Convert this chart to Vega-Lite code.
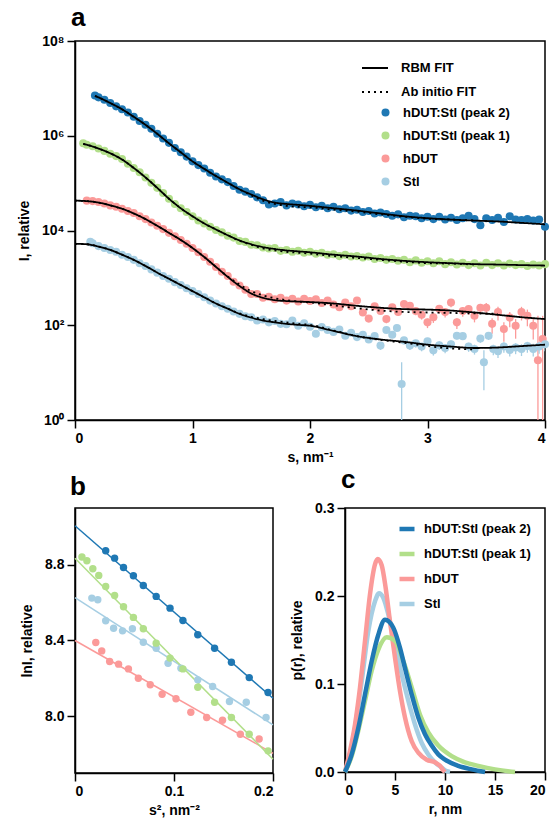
{
"$schema": "https://vega.github.io/schema/vega-lite/v6.json",
"background": "white",
"padding": {"left": 16, "top": 4, "right": 5, "bottom": 5},
"config": {
 "font": "Liberation Sans",
 "view": {"stroke": "black", "strokeWidth": 1.5},
 "axis": {"domainColor": "black", "domainWidth": 1.5, "tickColor": "black", "tickWidth": 1.5, "tickSize": 8, "labelFontSize": 14, "labelFontWeight": "bold", "labelColor": "black", "labelPadding": 3, "titleFontSize": 14, "titleFontWeight": "bold", "titleColor": "black", "grid": false},
 "legend": {"labelFontSize": 13, "labelFontWeight": "bold", "labelColor": "black"},
 "title": {"fontSize": 26, "fontWeight": "bold", "anchor": "start", "color": "black"}
},
"datasets": {
 "pa": [
  {"series":"hDUT:Stl (peak 2)","s":0.17,"I":7.08e6},{"series":"hDUT:Stl (peak 2)","s":0.2,"I":6.46e6},{"series":"hDUT:Stl (peak 2)","s":0.25,"I":5.75e6},{"series":"hDUT:Stl (peak 2)","s":0.3,"I":4.90e6},{"series":"hDUT:Stl (peak 2)","s":0.35,"I":4.17e6},{"series":"hDUT:Stl (peak 2)","s":0.4,"I":3.63e6},{"series":"hDUT:Stl (peak 2)","s":0.45,"I":3.09e6},{"series":"hDUT:Stl (peak 2)","s":0.5,"I":2.51e6},{"series":"hDUT:Stl (peak 2)","s":0.55,"I":2.04e6},{"series":"hDUT:Stl (peak 2)","s":0.6,"I":1.70e6},{"series":"hDUT:Stl (peak 2)","s":0.65,"I":1.41e6},{"series":"hDUT:Stl (peak 2)","s":0.7,"I":1.10e6},{"series":"hDUT:Stl (peak 2)","s":0.75,"I":8.71e5},{"series":"hDUT:Stl (peak 2)","s":0.8,"I":7.08e5},{"series":"hDUT:Stl (peak 2)","s":0.85,"I":5.50e5},{"series":"hDUT:Stl (peak 2)","s":0.9,"I":4.47e5},{"series":"hDUT:Stl (peak 2)","s":0.95,"I":3.63e5},{"series":"hDUT:Stl (peak 2)","s":1.0,"I":2.88e5},{"series":"hDUT:Stl (peak 2)","s":1.05,"I":2.40e5},{"series":"hDUT:Stl (peak 2)","s":1.1,"I":2.04e5},{"series":"hDUT:Stl (peak 2)","s":1.15,"I":1.66e5},{"series":"hDUT:Stl (peak 2)","s":1.2,"I":1.38e5},{"series":"hDUT:Stl (peak 2)","s":1.25,"I":1.20e5},{"series":"hDUT:Stl (peak 2)","s":1.3,"I":1.05e5},{"series":"hDUT:Stl (peak 2)","s":1.35,"I":8.71e4},{"series":"hDUT:Stl (peak 2)","s":1.4,"I":7.24e4},{"series":"hDUT:Stl (peak 2)","s":1.45,"I":6.61e4},{"series":"hDUT:Stl (peak 2)","s":1.5,"I":5.89e4},{"series":"hDUT:Stl (peak 2)","s":1.55,"I":5.01e4},{"series":"hDUT:Stl (peak 2)","s":1.6,"I":4.37e4},{"series":"hDUT:Stl (peak 2)","s":1.65,"I":3.55e4},{"series":"hDUT:Stl (peak 2)","s":1.7,"I":3.72e4},{"series":"hDUT:Stl (peak 2)","s":1.75,"I":3.98e4},{"series":"hDUT:Stl (peak 2)","s":1.8,"I":3.39e4},{"series":"hDUT:Stl (peak 2)","s":1.85,"I":3.72e4},{"series":"hDUT:Stl (peak 2)","s":1.9,"I":3.55e4},{"series":"hDUT:Stl (peak 2)","s":1.95,"I":3.24e4},{"series":"hDUT:Stl (peak 2)","s":2.0,"I":3.47e4},{"series":"hDUT:Stl (peak 2)","s":2.05,"I":3.09e4},{"series":"hDUT:Stl (peak 2)","s":2.1,"I":3.31e4},{"series":"hDUT:Stl (peak 2)","s":2.15,"I":2.95e4},{"series":"hDUT:Stl (peak 2)","s":2.2,"I":3.16e4},{"series":"hDUT:Stl (peak 2)","s":2.25,"I":2.82e4},{"series":"hDUT:Stl (peak 2)","s":2.3,"I":2.95e4},{"series":"hDUT:Stl (peak 2)","s":2.35,"I":2.63e4},{"series":"hDUT:Stl (peak 2)","s":2.4,"I":2.75e4},{"series":"hDUT:Stl (peak 2)","s":2.45,"I":2.45e4},{"series":"hDUT:Stl (peak 2)","s":2.5,"I":2.57e4},{"series":"hDUT:Stl (peak 2)","s":2.55,"I":2.29e4},{"series":"hDUT:Stl (peak 2)","s":2.6,"I":2.40e4},{"series":"hDUT:Stl (peak 2)","s":2.65,"I":2.24e4},{"series":"hDUT:Stl (peak 2)","s":2.7,"I":2.04e4},{"series":"hDUT:Stl (peak 2)","s":2.75,"I":2.19e4},{"series":"hDUT:Stl (peak 2)","s":2.8,"I":1.91e4},{"series":"hDUT:Stl (peak 2)","s":2.85,"I":2.04e4},{"series":"hDUT:Stl (peak 2)","s":2.9,"I":2.00e4},{"series":"hDUT:Stl (peak 2)","s":2.95,"I":1.82e4},{"series":"hDUT:Stl (peak 2)","s":3.0,"I":1.95e4},{"series":"hDUT:Stl (peak 2)","s":3.05,"I":1.74e4},{"series":"hDUT:Stl (peak 2)","s":3.1,"I":1.95e4},{"series":"hDUT:Stl (peak 2)","s":3.15,"I":1.70e4},{"series":"hDUT:Stl (peak 2)","s":3.2,"I":1.86e4},{"series":"hDUT:Stl (peak 2)","s":3.25,"I":1.66e4},{"series":"hDUT:Stl (peak 2)","s":3.3,"I":1.82e4},{"series":"hDUT:Stl (peak 2)","s":3.35,"I":2.04e4},{"series":"hDUT:Stl (peak 2)","s":3.4,"I":1.74e4},{"series":"hDUT:Stl (peak 2)","s":3.45,"I":1.29e4},{"series":"hDUT:Stl (peak 2)","s":3.5,"I":1.82e4},{"series":"hDUT:Stl (peak 2)","s":3.55,"I":1.66e4},{"series":"hDUT:Stl (peak 2)","s":3.6,"I":1.86e4},{"series":"hDUT:Stl (peak 2)","s":3.65,"I":1.51e4},{"series":"hDUT:Stl (peak 2)","s":3.7,"I":2.00e4},{"series":"hDUT:Stl (peak 2)","s":3.75,"I":1.70e4},{"series":"hDUT:Stl (peak 2)","s":3.8,"I":1.66e4},{"series":"hDUT:Stl (peak 2)","s":3.85,"I":1.74e4},{"series":"hDUT:Stl (peak 2)","s":3.9,"I":1.62e4},{"series":"hDUT:Stl (peak 2)","s":3.95,"I":1.70e4},{"series":"hDUT:Stl (peak 2)","s":4.0,"I":1.20e4},
  {"series":"hDUT:Stl (peak 1)","s":0.07,"I":6.92e5},{"series":"hDUT:Stl (peak 1)","s":0.1,"I":6.46e5},{"series":"hDUT:Stl (peak 1)","s":0.15,"I":6.03e5},{"series":"hDUT:Stl (peak 1)","s":0.2,"I":5.37e5},{"series":"hDUT:Stl (peak 1)","s":0.25,"I":4.79e5},{"series":"hDUT:Stl (peak 1)","s":0.3,"I":4.17e5},{"series":"hDUT:Stl (peak 1)","s":0.35,"I":3.72e5},{"series":"hDUT:Stl (peak 1)","s":0.4,"I":3.24e5},{"series":"hDUT:Stl (peak 1)","s":0.45,"I":2.57e5},{"series":"hDUT:Stl (peak 1)","s":0.5,"I":2.09e5},{"series":"hDUT:Stl (peak 1)","s":0.55,"I":1.70e5},{"series":"hDUT:Stl (peak 1)","s":0.6,"I":1.32e5},{"series":"hDUT:Stl (peak 1)","s":0.65,"I":1.02e5},{"series":"hDUT:Stl (peak 1)","s":0.7,"I":7.94e4},{"series":"hDUT:Stl (peak 1)","s":0.75,"I":6.17e4},{"series":"hDUT:Stl (peak 1)","s":0.8,"I":4.68e4},{"series":"hDUT:Stl (peak 1)","s":0.85,"I":3.63e4},{"series":"hDUT:Stl (peak 1)","s":0.9,"I":2.95e4},{"series":"hDUT:Stl (peak 1)","s":0.95,"I":2.45e4},{"series":"hDUT:Stl (peak 1)","s":1.0,"I":2.00e4},{"series":"hDUT:Stl (peak 1)","s":1.05,"I":1.62e4},{"series":"hDUT:Stl (peak 1)","s":1.1,"I":1.41e4},{"series":"hDUT:Stl (peak 1)","s":1.15,"I":1.20e4},{"series":"hDUT:Stl (peak 1)","s":1.2,"I":1.02e4},{"series":"hDUT:Stl (peak 1)","s":1.25,"I":9.12e3},{"series":"hDUT:Stl (peak 1)","s":1.3,"I":7.76e3},{"series":"hDUT:Stl (peak 1)","s":1.35,"I":7.08e3},{"series":"hDUT:Stl (peak 1)","s":1.4,"I":6.03e3},{"series":"hDUT:Stl (peak 1)","s":1.45,"I":5.75e3},{"series":"hDUT:Stl (peak 1)","s":1.5,"I":5.01e3},{"series":"hDUT:Stl (peak 1)","s":1.55,"I":4.90e3},{"series":"hDUT:Stl (peak 1)","s":1.6,"I":4.37e3},{"series":"hDUT:Stl (peak 1)","s":1.65,"I":4.17e3},{"series":"hDUT:Stl (peak 1)","s":1.7,"I":4.27e3},{"series":"hDUT:Stl (peak 1)","s":1.75,"I":3.72e3},{"series":"hDUT:Stl (peak 1)","s":1.8,"I":3.89e3},{"series":"hDUT:Stl (peak 1)","s":1.85,"I":3.55e3},{"series":"hDUT:Stl (peak 1)","s":1.9,"I":3.72e3},{"series":"hDUT:Stl (peak 1)","s":1.95,"I":3.39e3},{"series":"hDUT:Stl (peak 1)","s":2.0,"I":3.55e3},{"series":"hDUT:Stl (peak 1)","s":2.05,"I":3.24e3},{"series":"hDUT:Stl (peak 1)","s":2.1,"I":3.39e3},{"series":"hDUT:Stl (peak 1)","s":2.15,"I":3.09e3},{"series":"hDUT:Stl (peak 1)","s":2.2,"I":3.16e3},{"series":"hDUT:Stl (peak 1)","s":2.25,"I":2.88e3},{"series":"hDUT:Stl (peak 1)","s":2.3,"I":3.09e3},{"series":"hDUT:Stl (peak 1)","s":2.35,"I":2.82e3},{"series":"hDUT:Stl (peak 1)","s":2.4,"I":2.88e3},{"series":"hDUT:Stl (peak 1)","s":2.45,"I":2.69e3},{"series":"hDUT:Stl (peak 1)","s":2.5,"I":2.82e3},{"series":"hDUT:Stl (peak 1)","s":2.55,"I":2.51e3},{"series":"hDUT:Stl (peak 1)","s":2.6,"I":2.63e3},{"series":"hDUT:Stl (peak 1)","s":2.65,"I":2.40e3},{"series":"hDUT:Stl (peak 1)","s":2.7,"I":2.51e3},{"series":"hDUT:Stl (peak 1)","s":2.75,"I":2.29e3},{"series":"hDUT:Stl (peak 1)","s":2.8,"I":2.40e3},{"series":"hDUT:Stl (peak 1)","s":2.85,"I":2.14e3},{"series":"hDUT:Stl (peak 1)","s":2.9,"I":2.34e3},{"series":"hDUT:Stl (peak 1)","s":2.95,"I":2.09e3},{"series":"hDUT:Stl (peak 1)","s":3.0,"I":2.24e3},{"series":"hDUT:Stl (peak 1)","s":3.05,"I":2.04e3},{"series":"hDUT:Stl (peak 1)","s":3.1,"I":2.24e3},{"series":"hDUT:Stl (peak 1)","s":3.15,"I":1.95e3},{"series":"hDUT:Stl (peak 1)","s":3.2,"I":2.14e3},{"series":"hDUT:Stl (peak 1)","s":3.25,"I":1.91e3},{"series":"hDUT:Stl (peak 1)","s":3.3,"I":2.09e3},{"series":"hDUT:Stl (peak 1)","s":3.35,"I":1.86e3},{"series":"hDUT:Stl (peak 1)","s":3.4,"I":2.04e3},{"series":"hDUT:Stl (peak 1)","s":3.45,"I":1.82e3},{"series":"hDUT:Stl (peak 1)","s":3.5,"I":2.09e3},{"series":"hDUT:Stl (peak 1)","s":3.55,"I":1.86e3},{"series":"hDUT:Stl (peak 1)","s":3.6,"I":2.04e3},{"series":"hDUT:Stl (peak 1)","s":3.65,"I":1.82e3},{"series":"hDUT:Stl (peak 1)","s":3.7,"I":2.00e3},{"series":"hDUT:Stl (peak 1)","s":3.75,"I":1.86e3},{"series":"hDUT:Stl (peak 1)","s":3.8,"I":1.95e3},{"series":"hDUT:Stl (peak 1)","s":3.85,"I":1.78e3},{"series":"hDUT:Stl (peak 1)","s":3.9,"I":1.91e3},{"series":"hDUT:Stl (peak 1)","s":3.95,"I":1.82e3},{"series":"hDUT:Stl (peak 1)","s":4.0,"I":1.95e3},
  {"series":"hDUT","s":0.1,"I":4.27e4},{"series":"hDUT","s":0.15,"I":4.17e4},{"series":"hDUT","s":0.2,"I":3.98e4},{"series":"hDUT","s":0.25,"I":3.72e4},{"series":"hDUT","s":0.3,"I":3.39e4},{"series":"hDUT","s":0.35,"I":3.16e4},{"series":"hDUT","s":0.4,"I":2.88e4},{"series":"hDUT","s":0.45,"I":2.57e4},{"series":"hDUT","s":0.5,"I":2.34e4},{"series":"hDUT","s":0.55,"I":2.00e4},{"series":"hDUT","s":0.6,"I":1.74e4},{"series":"hDUT","s":0.65,"I":1.48e4},{"series":"hDUT","s":0.7,"I":1.26e4},{"series":"hDUT","s":0.75,"I":1.07e4},{"series":"hDUT","s":0.8,"I":8.91e3},{"series":"hDUT","s":0.85,"I":7.59e3},{"series":"hDUT","s":0.9,"I":6.31e3},{"series":"hDUT","s":0.95,"I":5.25e3},{"series":"hDUT","s":1.0,"I":4.27e3},{"series":"hDUT","s":1.05,"I":3.47e3},{"series":"hDUT","s":1.1,"I":2.75e3},{"series":"hDUT","s":1.15,"I":2.19e3},{"series":"hDUT","s":1.2,"I":1.70e3},{"series":"hDUT","s":1.25,"I":1.35e3},{"series":"hDUT","s":1.3,"I":1.10e3},{"series":"hDUT","s":1.35,"I":832},{"series":"hDUT","s":1.4,"I":692},{"series":"hDUT","s":1.45,"I":562},{"series":"hDUT","s":1.5,"I":457},{"series":"hDUT","s":1.55,"I":457},{"series":"hDUT","s":1.6,"I":380},{"series":"hDUT","s":1.65,"I":398},{"series":"hDUT","s":1.7,"I":355},{"series":"hDUT","s":1.75,"I":380},{"series":"hDUT","s":1.8,"I":331},{"series":"hDUT","s":1.85,"I":363},{"series":"hDUT","s":1.9,"I":316},{"series":"hDUT","s":1.95,"I":363},{"series":"hDUT","s":2.0,"I":324},{"series":"hDUT","s":2.05,"I":355},{"series":"hDUT","s":2.1,"I":295},{"series":"hDUT","s":2.15,"I":331},{"series":"hDUT","s":2.2,"I":275},{"series":"hDUT","s":2.25,"I":240},
  {"series":"hDUT","s":2.3,"I":302,"lo":269,"hi":339},{"series":"hDUT","s":2.35,"I":251,"lo":224,"hi":282},{"series":"hDUT","s":2.4,"I":331,"lo":295,"hi":372},{"series":"hDUT","s":2.45,"I":186,"lo":162,"hi":209},{"series":"hDUT","s":2.5,"I":138,"lo":117,"hi":158},{"series":"hDUT","s":2.55,"I":251,"lo":219,"hi":282},{"series":"hDUT","s":2.6,"I":200,"lo":174,"hi":224},{"series":"hDUT","s":2.65,"I":135,"lo":110,"hi":158},{"series":"hDUT","s":2.7,"I":240,"lo":204,"hi":275},{"series":"hDUT","s":2.75,"I":191,"lo":158,"hi":219},{"series":"hDUT","s":2.8,"I":282,"lo":240,"hi":324},{"series":"hDUT","s":2.85,"I":257,"lo":214,"hi":295},{"series":"hDUT","s":2.9,"I":200,"lo":162,"hi":234},{"series":"hDUT","s":2.95,"I":166,"lo":132,"hi":195},{"series":"hDUT","s":3.0,"I":115,"lo":87,"hi":138},{"series":"hDUT","s":3.05,"I":148,"lo":112,"hi":178},{"series":"hDUT","s":3.1,"I":224,"lo":174,"hi":269},{"series":"hDUT","s":3.15,"I":191,"lo":145,"hi":229},{"series":"hDUT","s":3.2,"I":302,"lo":240,"hi":355},{"series":"hDUT","s":3.25,"I":115,"lo":83,"hi":141},{"series":"hDUT","s":3.3,"I":200,"lo":151,"hi":240},{"series":"hDUT","s":3.35,"I":219,"lo":166,"hi":263},{"series":"hDUT","s":3.4,"I":158,"lo":115,"hi":195},{"series":"hDUT","s":3.45,"I":234,"lo":178,"hi":282},{"series":"hDUT","s":3.5,"I":234,"lo":166,"hi":295},{"series":"hDUT","s":3.55,"I":107,"lo":66,"hi":141},{"series":"hDUT","s":3.6,"I":191,"lo":126,"hi":245},{"series":"hDUT","s":3.65,"I":83,"lo":45,"hi":115},{"series":"hDUT","s":3.7,"I":145,"lo":91,"hi":191},{"series":"hDUT","s":3.75,"I":98,"lo":52,"hi":135},{"series":"hDUT","s":3.8,"I":191,"lo":126,"hi":245},{"series":"hDUT","s":3.85,"I":158,"lo":95,"hi":214},{"series":"hDUT","s":3.9,"I":98,"lo":50,"hi":138},{"series":"hDUT","s":3.94,"I":18.2,"lo":0.3,"hi":158},{"series":"hDUT","s":3.98,"I":51,"lo":0.3,"hi":158},
  {"series":"Stl","s":0.13,"I":5.75e3},{"series":"Stl","s":0.15,"I":5.37e3},{"series":"Stl","s":0.2,"I":4.68e3},{"series":"Stl","s":0.25,"I":4.27e3},{"series":"Stl","s":0.3,"I":3.89e3},{"series":"Stl","s":0.35,"I":3.55e3},{"series":"Stl","s":0.4,"I":3.09e3},{"series":"Stl","s":0.45,"I":2.75e3},{"series":"Stl","s":0.5,"I":2.40e3},{"series":"Stl","s":0.55,"I":2.04e3},{"series":"Stl","s":0.6,"I":1.78e3},{"series":"Stl","s":0.65,"I":1.51e3},{"series":"Stl","s":0.7,"I":1.29e3},{"series":"Stl","s":0.75,"I":1.10e3},{"series":"Stl","s":0.8,"I":955},{"series":"Stl","s":0.85,"I":813},{"series":"Stl","s":0.9,"I":708},{"series":"Stl","s":0.95,"I":603},{"series":"Stl","s":1.0,"I":525},{"series":"Stl","s":1.05,"I":457},{"series":"Stl","s":1.1,"I":389},{"series":"Stl","s":1.15,"I":331},{"series":"Stl","s":1.2,"I":288},{"series":"Stl","s":1.25,"I":251},{"series":"Stl","s":1.3,"I":224},{"series":"Stl","s":1.35,"I":195},{"series":"Stl","s":1.4,"I":174},{"series":"Stl","s":1.45,"I":155},{"series":"Stl","s":1.5,"I":148},{"series":"Stl","s":1.55,"I":126},{"series":"Stl","s":1.6,"I":132},{"series":"Stl","s":1.65,"I":115},{"series":"Stl","s":1.7,"I":123},{"series":"Stl","s":1.75,"I":107},{"series":"Stl","s":1.8,"I":105},{"series":"Stl","s":1.85,"I":126},{"series":"Stl","s":1.9,"I":97.7},{"series":"Stl","s":1.95,"I":110},{"series":"Stl","s":2.0,"I":93.3},{"series":"Stl","s":2.05,"I":66.1},{"series":"Stl","s":2.1,"I":91.2},{"series":"Stl","s":2.15,"I":79.4},{"series":"Stl","s":2.2,"I":72.4},{"series":"Stl","s":2.25,"I":81.3},
  {"series":"Stl","s":2.3,"I":60.3,"lo":53.7,"hi":67.6},{"series":"Stl","s":2.35,"I":69.2,"lo":61.7,"hi":77.6},{"series":"Stl","s":2.4,"I":56.2,"lo":49.0,"hi":63.1},{"series":"Stl","s":2.45,"I":63.1,"lo":55.0,"hi":70.8},{"series":"Stl","s":2.5,"I":50.1,"lo":42.7,"hi":57.5},{"series":"Stl","s":2.55,"I":58.9,"lo":50.1,"hi":67.6},{"series":"Stl","s":2.6,"I":37.2,"lo":30.2,"hi":43.7},{"series":"Stl","s":2.65,"I":79.4,"lo":69.2,"hi":89.1},{"series":"Stl","s":2.7,"I":63.1,"lo":53.7,"hi":72.4},{"series":"Stl","s":2.74,"I":87.1,"lo":75.9,"hi":97.7},{"series":"Stl","s":2.78,"I":5.75,"lo":0.3,"hi":16.6},{"series":"Stl","s":2.8,"I":47.9,"lo":39.8,"hi":55.0},{"series":"Stl","s":2.85,"I":37.2,"lo":30.2,"hi":43.7},{"series":"Stl","s":2.9,"I":41.7,"lo":33.9,"hi":49.0},{"series":"Stl","s":2.95,"I":35.5,"lo":28.2,"hi":41.7},{"series":"Stl","s":3.0,"I":45.7,"lo":37.2,"hi":53.7},{"series":"Stl","s":3.05,"I":29.5,"lo":22.9,"hi":35.5},{"series":"Stl","s":3.1,"I":38.0,"lo":30.2,"hi":45.7},{"series":"Stl","s":3.15,"I":33.1,"lo":25.7,"hi":39.8},{"series":"Stl","s":3.2,"I":39.8,"lo":31.6,"hi":47.9},{"series":"Stl","s":3.25,"I":60.3,"lo":50.1,"hi":70.8},{"series":"Stl","s":3.3,"I":58.9,"lo":49.0,"hi":69.2},{"series":"Stl","s":3.35,"I":35.5,"lo":27.5,"hi":42.7},{"series":"Stl","s":3.4,"I":31.6,"lo":24.0,"hi":38.9},{"series":"Stl","s":3.45,"I":52.5,"lo":42.7,"hi":61.7},{"series":"Stl","s":3.48,"I":16.6,"lo":4.27,"hi":29.5},{"series":"Stl","s":3.52,"I":60.3,"lo":49.0,"hi":70.8},{"series":"Stl","s":3.56,"I":31.6,"lo":23.4,"hi":38.9},{"series":"Stl","s":3.6,"I":28.2,"lo":20.4,"hi":35.5},{"series":"Stl","s":3.65,"I":35.5,"lo":26.3,"hi":43.7},{"series":"Stl","s":3.7,"I":30.2,"lo":21.9,"hi":38.0},{"series":"Stl","s":3.75,"I":33.9,"lo":24.5,"hi":41.7},{"series":"Stl","s":3.8,"I":31.6,"lo":22.4,"hi":39.8},{"series":"Stl","s":3.85,"I":36.3,"lo":26.3,"hi":44.7},{"series":"Stl","s":3.9,"I":31.6,"lo":21.9,"hi":40.7},{"series":"Stl","s":3.95,"I":35.5,"lo":25.1,"hi":44.7},{"series":"Stl","s":4.0,"I":39.8,"lo":28.2,"hi":50.1}
 ],
 "fa": [
  {"series":"hDUT:Stl (peak 2)","s":0.17,"RBM FIT":6.92e6,"Ab initio FIT":6.92e6},{"series":"hDUT:Stl (peak 2)","s":0.2,"RBM FIT":6.46e6,"Ab initio FIT":6.46e6},{"series":"hDUT:Stl (peak 2)","s":0.3,"RBM FIT":4.90e6,"Ab initio FIT":4.90e6},{"series":"hDUT:Stl (peak 2)","s":0.4,"RBM FIT":3.63e6,"Ab initio FIT":3.63e6},{"series":"hDUT:Stl (peak 2)","s":0.5,"RBM FIT":2.51e6,"Ab initio FIT":2.51e6},{"series":"hDUT:Stl (peak 2)","s":0.6,"RBM FIT":1.70e6,"Ab initio FIT":1.70e6},{"series":"hDUT:Stl (peak 2)","s":0.7,"RBM FIT":1.10e6,"Ab initio FIT":1.10e6},{"series":"hDUT:Stl (peak 2)","s":0.8,"RBM FIT":6.92e5,"Ab initio FIT":6.92e5},{"series":"hDUT:Stl (peak 2)","s":0.9,"RBM FIT":4.47e5,"Ab initio FIT":4.47e5},{"series":"hDUT:Stl (peak 2)","s":1.0,"RBM FIT":2.88e5,"Ab initio FIT":2.88e5},{"series":"hDUT:Stl (peak 2)","s":1.1,"RBM FIT":2.00e5,"Ab initio FIT":2.00e5},{"series":"hDUT:Stl (peak 2)","s":1.2,"RBM FIT":1.41e5,"Ab initio FIT":1.41e5},{"series":"hDUT:Stl (peak 2)","s":1.3,"RBM FIT":1.02e5,"Ab initio FIT":1.02e5},{"series":"hDUT:Stl (peak 2)","s":1.4,"RBM FIT":7.41e4,"Ab initio FIT":7.41e4},{"series":"hDUT:Stl (peak 2)","s":1.5,"RBM FIT":5.75e4,"Ab initio FIT":5.50e4},{"series":"hDUT:Stl (peak 2)","s":1.6,"RBM FIT":4.57e4,"Ab initio FIT":4.27e4},{"series":"hDUT:Stl (peak 2)","s":1.7,"RBM FIT":3.89e4,"Ab initio FIT":3.63e4},{"series":"hDUT:Stl (peak 2)","s":1.8,"RBM FIT":3.63e4,"Ab initio FIT":3.31e4},{"series":"hDUT:Stl (peak 2)","s":1.9,"RBM FIT":3.47e4,"Ab initio FIT":3.16e4},{"series":"hDUT:Stl (peak 2)","s":2.0,"RBM FIT":3.31e4,"Ab initio FIT":3.09e4},{"series":"hDUT:Stl (peak 2)","s":2.2,"RBM FIT":2.95e4,"Ab initio FIT":2.75e4},{"series":"hDUT:Stl (peak 2)","s":2.4,"RBM FIT":2.63e4,"Ab initio FIT":2.51e4},{"series":"hDUT:Stl (peak 2)","s":2.6,"RBM FIT":2.29e4,"Ab initio FIT":2.19e4},{"series":"hDUT:Stl (peak 2)","s":2.8,"RBM FIT":2.00e4,"Ab initio FIT":1.95e4},{"series":"hDUT:Stl (peak 2)","s":3.0,"RBM FIT":1.82e4,"Ab initio FIT":1.78e4},{"series":"hDUT:Stl (peak 2)","s":3.2,"RBM FIT":1.70e4,"Ab initio FIT":1.70e4},{"series":"hDUT:Stl (peak 2)","s":3.4,"RBM FIT":1.62e4,"Ab initio FIT":1.62e4},{"series":"hDUT:Stl (peak 2)","s":3.6,"RBM FIT":1.55e4},{"series":"hDUT:Stl (peak 2)","s":3.8,"RBM FIT":1.45e4},{"series":"hDUT:Stl (peak 2)","s":4.0,"RBM FIT":1.35e4},
  {"series":"hDUT:Stl (peak 1)","s":0.07,"RBM FIT":6.76e5,"Ab initio FIT":6.76e5},{"series":"hDUT:Stl (peak 1)","s":0.1,"RBM FIT":6.46e5,"Ab initio FIT":6.46e5},{"series":"hDUT:Stl (peak 1)","s":0.2,"RBM FIT":5.37e5,"Ab initio FIT":5.37e5},{"series":"hDUT:Stl (peak 1)","s":0.3,"RBM FIT":4.27e5,"Ab initio FIT":4.27e5},{"series":"hDUT:Stl (peak 1)","s":0.4,"RBM FIT":3.16e5,"Ab initio FIT":3.16e5},{"series":"hDUT:Stl (peak 1)","s":0.5,"RBM FIT":2.09e5,"Ab initio FIT":2.09e5},{"series":"hDUT:Stl (peak 1)","s":0.6,"RBM FIT":1.32e5,"Ab initio FIT":1.32e5},{"series":"hDUT:Stl (peak 1)","s":0.7,"RBM FIT":7.94e4,"Ab initio FIT":7.94e4},{"series":"hDUT:Stl (peak 1)","s":0.8,"RBM FIT":4.68e4,"Ab initio FIT":4.68e4},{"series":"hDUT:Stl (peak 1)","s":0.9,"RBM FIT":2.95e4,"Ab initio FIT":2.95e4},{"series":"hDUT:Stl (peak 1)","s":1.0,"RBM FIT":2.00e4,"Ab initio FIT":2.00e4},{"series":"hDUT:Stl (peak 1)","s":1.1,"RBM FIT":1.41e4,"Ab initio FIT":1.41e4},{"series":"hDUT:Stl (peak 1)","s":1.2,"RBM FIT":1.05e4,"Ab initio FIT":1.05e4},{"series":"hDUT:Stl (peak 1)","s":1.3,"RBM FIT":7.94e3,"Ab initio FIT":7.94e3},{"series":"hDUT:Stl (peak 1)","s":1.4,"RBM FIT":6.17e3,"Ab initio FIT":6.03e3},{"series":"hDUT:Stl (peak 1)","s":1.5,"RBM FIT":5.13e3,"Ab initio FIT":5.01e3},{"series":"hDUT:Stl (peak 1)","s":1.6,"RBM FIT":4.47e3,"Ab initio FIT":4.17e3},{"series":"hDUT:Stl (peak 1)","s":1.7,"RBM FIT":4.07e3,"Ab initio FIT":3.80e3},{"series":"hDUT:Stl (peak 1)","s":1.8,"RBM FIT":3.80e3,"Ab initio FIT":3.55e3},{"series":"hDUT:Stl (peak 1)","s":1.9,"RBM FIT":3.63e3,"Ab initio FIT":3.39e3},{"series":"hDUT:Stl (peak 1)","s":2.0,"RBM FIT":3.47e3,"Ab initio FIT":3.24e3},{"series":"hDUT:Stl (peak 1)","s":2.2,"RBM FIT":3.09e3,"Ab initio FIT":2.88e3},{"series":"hDUT:Stl (peak 1)","s":2.4,"RBM FIT":2.82e3,"Ab initio FIT":2.63e3},{"series":"hDUT:Stl (peak 1)","s":2.6,"RBM FIT":2.51e3,"Ab initio FIT":2.40e3},{"series":"hDUT:Stl (peak 1)","s":2.8,"RBM FIT":2.29e3,"Ab initio FIT":2.19e3},{"series":"hDUT:Stl (peak 1)","s":3.0,"RBM FIT":2.14e3,"Ab initio FIT":2.04e3},{"series":"hDUT:Stl (peak 1)","s":3.2,"RBM FIT":2.04e3,"Ab initio FIT":2.00e3},{"series":"hDUT:Stl (peak 1)","s":3.4,"RBM FIT":1.95e3,"Ab initio FIT":1.91e3},{"series":"hDUT:Stl (peak 1)","s":3.6,"RBM FIT":1.91e3},{"series":"hDUT:Stl (peak 1)","s":3.8,"RBM FIT":1.86e3},{"series":"hDUT:Stl (peak 1)","s":4.0,"RBM FIT":1.82e3},
  {"series":"hDUT","s":0.0,"RBM FIT":4.27e4,"Ab initio FIT":4.27e4},{"series":"hDUT","s":0.1,"RBM FIT":4.17e4,"Ab initio FIT":4.17e4},{"series":"hDUT","s":0.2,"RBM FIT":3.89e4,"Ab initio FIT":3.89e4},{"series":"hDUT","s":0.3,"RBM FIT":3.39e4,"Ab initio FIT":3.39e4},{"series":"hDUT","s":0.4,"RBM FIT":2.88e4,"Ab initio FIT":2.88e4},{"series":"hDUT","s":0.5,"RBM FIT":2.29e4,"Ab initio FIT":2.29e4},{"series":"hDUT","s":0.6,"RBM FIT":1.74e4,"Ab initio FIT":1.74e4},{"series":"hDUT","s":0.7,"RBM FIT":1.26e4,"Ab initio FIT":1.26e4},{"series":"hDUT","s":0.8,"RBM FIT":8.91e3,"Ab initio FIT":8.91e3},{"series":"hDUT","s":0.9,"RBM FIT":6.31e3,"Ab initio FIT":6.31e3},{"series":"hDUT","s":1.0,"RBM FIT":4.27e3,"Ab initio FIT":4.27e3},{"series":"hDUT","s":1.1,"RBM FIT":2.75e3,"Ab initio FIT":2.75e3},{"series":"hDUT","s":1.2,"RBM FIT":1.70e3,"Ab initio FIT":1.70e3},{"series":"hDUT","s":1.3,"RBM FIT":1.05e3,"Ab initio FIT":1.07e3},{"series":"hDUT","s":1.4,"RBM FIT":676,"Ab initio FIT":724},{"series":"hDUT","s":1.5,"RBM FIT":468,"Ab initio FIT":525},{"series":"hDUT","s":1.6,"RBM FIT":380,"Ab initio FIT":427},{"series":"hDUT","s":1.7,"RBM FIT":339,"Ab initio FIT":372},{"series":"hDUT","s":1.8,"RBM FIT":324,"Ab initio FIT":339},{"series":"hDUT","s":1.9,"RBM FIT":316,"Ab initio FIT":316},{"series":"hDUT","s":2.0,"RBM FIT":309,"Ab initio FIT":302},{"series":"hDUT","s":2.2,"RBM FIT":288,"Ab initio FIT":263},{"series":"hDUT","s":2.4,"RBM FIT":257,"Ab initio FIT":229},{"series":"hDUT","s":2.6,"RBM FIT":234,"Ab initio FIT":204},{"series":"hDUT","s":2.8,"RBM FIT":219,"Ab initio FIT":191},{"series":"hDUT","s":3.0,"RBM FIT":214,"Ab initio FIT":186},{"series":"hDUT","s":3.2,"RBM FIT":204,"Ab initio FIT":182},{"series":"hDUT","s":3.4,"RBM FIT":186,"Ab initio FIT":178},{"series":"hDUT","s":3.6,"RBM FIT":166,"Ab initio FIT":174},{"series":"hDUT","s":3.8,"RBM FIT":148},{"series":"hDUT","s":4.0,"RBM FIT":135},
  {"series":"Stl","s":0.0,"RBM FIT":5.25e3,"Ab initio FIT":5.25e3},{"series":"Stl","s":0.1,"RBM FIT":5.13e3,"Ab initio FIT":5.13e3},{"series":"Stl","s":0.2,"RBM FIT":4.57e3,"Ab initio FIT":4.57e3},{"series":"Stl","s":0.3,"RBM FIT":3.89e3,"Ab initio FIT":3.89e3},{"series":"Stl","s":0.4,"RBM FIT":3.09e3,"Ab initio FIT":3.09e3},{"series":"Stl","s":0.5,"RBM FIT":2.40e3,"Ab initio FIT":2.40e3},{"series":"Stl","s":0.6,"RBM FIT":1.78e3,"Ab initio FIT":1.78e3},{"series":"Stl","s":0.7,"RBM FIT":1.29e3,"Ab initio FIT":1.29e3},{"series":"Stl","s":0.8,"RBM FIT":955,"Ab initio FIT":955},{"series":"Stl","s":0.9,"RBM FIT":708,"Ab initio FIT":708},{"series":"Stl","s":1.0,"RBM FIT":525,"Ab initio FIT":525},{"series":"Stl","s":1.1,"RBM FIT":389,"Ab initio FIT":389},{"series":"Stl","s":1.2,"RBM FIT":288,"Ab initio FIT":288},{"series":"Stl","s":1.3,"RBM FIT":224,"Ab initio FIT":224},{"series":"Stl","s":1.4,"RBM FIT":174,"Ab initio FIT":178},{"series":"Stl","s":1.5,"RBM FIT":145,"Ab initio FIT":151},{"series":"Stl","s":1.6,"RBM FIT":126,"Ab initio FIT":135},{"series":"Stl","s":1.7,"RBM FIT":115,"Ab initio FIT":123},{"series":"Stl","s":1.8,"RBM FIT":107,"Ab initio FIT":115},{"series":"Stl","s":1.9,"RBM FIT":102,"Ab initio FIT":107},{"series":"Stl","s":2.0,"RBM FIT":97.7,"Ab initio FIT":102},{"series":"Stl","s":2.2,"RBM FIT":75.9,"Ab initio FIT":77.6},{"series":"Stl","s":2.4,"RBM FIT":58.9,"Ab initio FIT":58.9},{"series":"Stl","s":2.6,"RBM FIT":50.1,"Ab initio FIT":49.0},{"series":"Stl","s":2.8,"RBM FIT":44.7,"Ab initio FIT":42.7},{"series":"Stl","s":3.0,"RBM FIT":38.9,"Ab initio FIT":36.3},{"series":"Stl","s":3.2,"RBM FIT":35.5,"Ab initio FIT":32.4},{"series":"Stl","s":3.4,"RBM FIT":33.1,"Ab initio FIT":30.9},{"series":"Stl","s":3.6,"RBM FIT":33.9},{"series":"Stl","s":3.8,"RBM FIT":36.3},{"series":"Stl","s":4.0,"RBM FIT":38.9}
 ],
 "gp": [
  {"series":"Stl","s2":0.017,"lnI":8.624},{"series":"Stl","s2":0.023,"lnI":8.615},{"series":"Stl","s2":0.031,"lnI":8.504},{"series":"Stl","s2":0.039,"lnI":8.465},{"series":"Stl","s2":0.048,"lnI":8.451},{"series":"Stl","s2":0.058,"lnI":8.462},{"series":"Stl","s2":0.069,"lnI":8.391},{"series":"Stl","s2":0.082,"lnI":8.359},{"series":"Stl","s2":0.094,"lnI":8.28},{"series":"Stl","s2":0.107,"lnI":8.254},{"series":"Stl","s2":0.124,"lnI":8.192},{"series":"Stl","s2":0.139,"lnI":8.157},{"series":"Stl","s2":0.156,"lnI":8.078},{"series":"Stl","s2":0.173,"lnI":8.074},{"series":"Stl","s2":0.193,"lnI":7.993},
  {"series":"hDUT","s2":0.021,"lnI":8.389},{"series":"hDUT","s2":0.027,"lnI":8.345},{"series":"hDUT","s2":0.035,"lnI":8.289},{"series":"hDUT","s2":0.044,"lnI":8.275},{"series":"hDUT","s2":0.054,"lnI":8.25},{"series":"hDUT","s2":0.064,"lnI":8.201},{"series":"hDUT","s2":0.076,"lnI":8.166},{"series":"hDUT","s2":0.088,"lnI":8.116},{"series":"hDUT","s2":0.102,"lnI":8.092},{"series":"hDUT","s2":0.117,"lnI":8.021},{"series":"hDUT","s2":0.133,"lnI":7.993},{"series":"hDUT","s2":0.149,"lnI":7.979},{"series":"hDUT","s2":0.167,"lnI":7.905},{"series":"hDUT","s2":0.186,"lnI":7.88},
  {"series":"hDUT:Stl (peak 1)","s2":0.007,"lnI":8.841},{"series":"hDUT:Stl (peak 1)","s2":0.012,"lnI":8.821},{"series":"hDUT:Stl (peak 1)","s2":0.018,"lnI":8.779},{"series":"hDUT:Stl (peak 1)","s2":0.024,"lnI":8.744},{"series":"hDUT:Stl (peak 1)","s2":0.031,"lnI":8.685},{"series":"hDUT:Stl (peak 1)","s2":0.04,"lnI":8.638},{"series":"hDUT:Stl (peak 1)","s2":0.049,"lnI":8.578},{"series":"hDUT:Stl (peak 1)","s2":0.059,"lnI":8.522},{"series":"hDUT:Stl (peak 1)","s2":0.069,"lnI":8.462},{"series":"hDUT:Stl (peak 1)","s2":0.082,"lnI":8.386},{"series":"hDUT:Stl (peak 1)","s2":0.096,"lnI":8.307},{"series":"hDUT:Stl (peak 1)","s2":0.109,"lnI":8.25},{"series":"hDUT:Stl (peak 1)","s2":0.124,"lnI":8.153},{"series":"hDUT:Stl (peak 1)","s2":0.141,"lnI":8.074},{"series":"hDUT:Stl (peak 1)","s2":0.158,"lnI":7.993},{"series":"hDUT:Stl (peak 1)","s2":0.176,"lnI":7.905},{"series":"hDUT:Stl (peak 1)","s2":0.195,"lnI":7.817},
  {"series":"hDUT:Stl (peak 2)","s2":0.031,"lnI":8.874},{"series":"hDUT:Stl (peak 2)","s2":0.04,"lnI":8.835},{"series":"hDUT:Stl (peak 2)","s2":0.049,"lnI":8.786},{"series":"hDUT:Stl (peak 2)","s2":0.059,"lnI":8.742},{"series":"hDUT:Stl (peak 2)","s2":0.069,"lnI":8.691},{"series":"hDUT:Stl (peak 2)","s2":0.082,"lnI":8.633},{"series":"hDUT:Stl (peak 2)","s2":0.096,"lnI":8.571},{"series":"hDUT:Stl (peak 2)","s2":0.109,"lnI":8.506},{"series":"hDUT:Stl (peak 2)","s2":0.124,"lnI":8.43},{"series":"hDUT:Stl (peak 2)","s2":0.141,"lnI":8.359},{"series":"hDUT:Stl (peak 2)","s2":0.158,"lnI":8.285},{"series":"hDUT:Stl (peak 2)","s2":0.176,"lnI":8.204},{"series":"hDUT:Stl (peak 2)","s2":0.195,"lnI":8.125}
 ],
 "gf": [
  {"series":"Stl","s2":0,"lnI":8.627},{"series":"Stl","s2":0.2,"lnI":7.954},
  {"series":"hDUT","s2":0,"lnI":8.4},{"series":"hDUT","s2":0.2,"lnI":7.804},
  {"series":"hDUT:Stl (peak 1)","s2":0,"lnI":8.835},{"series":"hDUT:Stl (peak 1)","s2":0.2,"lnI":7.773},
  {"series":"hDUT:Stl (peak 2)","s2":0,"lnI":9.006},{"series":"hDUT:Stl (peak 2)","s2":0.2,"lnI":8.095}
 ],
 "pr": [
  {"series":"Stl","r":0,"p":0},{"series":"Stl","r":0.5,"p":0.02},{"series":"Stl","r":1,"p":0.05},{"series":"Stl","r":1.67,"p":0.103},{"series":"Stl","r":2.33,"p":0.16},{"series":"Stl","r":3,"p":0.194},{"series":"Stl","r":3.4,"p":0.203},{"series":"Stl","r":3.83,"p":0.198},{"series":"Stl","r":4.33,"p":0.179},{"series":"Stl","r":5,"p":0.145},{"series":"Stl","r":5.67,"p":0.111},{"series":"Stl","r":6.33,"p":0.081},{"series":"Stl","r":7,"p":0.054},{"series":"Stl","r":7.67,"p":0.033},{"series":"Stl","r":8.33,"p":0.02},{"series":"Stl","r":9,"p":0.011},{"series":"Stl","r":9.67,"p":0.005},{"series":"Stl","r":10.17,"p":0.001},{"series":"Stl","r":10.5,"p":0},
  {"series":"hDUT","r":0,"p":0},{"series":"hDUT","r":0.5,"p":0.024},{"series":"hDUT","r":1,"p":0.054},{"series":"hDUT","r":1.5,"p":0.096},{"series":"hDUT","r":2,"p":0.149},{"series":"hDUT","r":2.5,"p":0.202},{"series":"hDUT","r":3,"p":0.236},{"series":"hDUT","r":3.27,"p":0.242},{"series":"hDUT","r":3.67,"p":0.235},{"series":"hDUT","r":4.07,"p":0.209},{"series":"hDUT","r":4.5,"p":0.171},{"series":"hDUT","r":5,"p":0.13},{"series":"hDUT","r":5.5,"p":0.092},{"series":"hDUT","r":6,"p":0.062},{"series":"hDUT","r":6.67,"p":0.035},{"series":"hDUT","r":7.33,"p":0.022},{"series":"hDUT","r":8.17,"p":0.014},{"series":"hDUT","r":9,"p":0.011},{"series":"hDUT","r":9.5,"p":0.007},{"series":"hDUT","r":9.83,"p":0.002},{"series":"hDUT","r":10,"p":0},
  {"series":"hDUT:Stl (peak 1)","r":0,"p":0},{"series":"hDUT:Stl (peak 1)","r":0.67,"p":0.018},{"series":"hDUT:Stl (peak 1)","r":1.33,"p":0.047},{"series":"hDUT:Stl (peak 1)","r":2,"p":0.081},{"series":"hDUT:Stl (peak 1)","r":2.67,"p":0.115},{"series":"hDUT:Stl (peak 1)","r":3.33,"p":0.139},{"series":"hDUT:Stl (peak 1)","r":4.17,"p":0.153},{"series":"hDUT:Stl (peak 1)","r":5,"p":0.149},{"series":"hDUT:Stl (peak 1)","r":5.83,"p":0.126},{"series":"hDUT:Stl (peak 1)","r":6.67,"p":0.096},{"series":"hDUT:Stl (peak 1)","r":7.5,"p":0.065},{"series":"hDUT:Stl (peak 1)","r":8.33,"p":0.045},{"series":"hDUT:Stl (peak 1)","r":9.33,"p":0.03},{"series":"hDUT:Stl (peak 1)","r":10.67,"p":0.018},{"series":"hDUT:Stl (peak 1)","r":12,"p":0.011},{"series":"hDUT:Stl (peak 1)","r":13.33,"p":0.007},{"series":"hDUT:Stl (peak 1)","r":15,"p":0.003},{"series":"hDUT:Stl (peak 1)","r":16.67,"p":0.0004},{"series":"hDUT:Stl (peak 1)","r":17,"p":0},
  {"series":"hDUT:Stl (peak 2)","r":0,"p":0},{"series":"hDUT:Stl (peak 2)","r":0.67,"p":0.02},{"series":"hDUT:Stl (peak 2)","r":1.33,"p":0.05},{"series":"hDUT:Stl (peak 2)","r":2,"p":0.088},{"series":"hDUT:Stl (peak 2)","r":2.67,"p":0.126},{"series":"hDUT:Stl (peak 2)","r":3.33,"p":0.156},{"series":"hDUT:Stl (peak 2)","r":4,"p":0.173},{"series":"hDUT:Stl (peak 2)","r":4.83,"p":0.164},{"series":"hDUT:Stl (peak 2)","r":5.5,"p":0.141},{"series":"hDUT:Stl (peak 2)","r":6,"p":0.118},{"series":"hDUT:Stl (peak 2)","r":6.67,"p":0.088},{"series":"hDUT:Stl (peak 2)","r":7.33,"p":0.062},{"series":"hDUT:Stl (peak 2)","r":8,"p":0.043},{"series":"hDUT:Stl (peak 2)","r":8.67,"p":0.03},{"series":"hDUT:Stl (peak 2)","r":9.33,"p":0.02},{"series":"hDUT:Stl (peak 2)","r":10,"p":0.014},{"series":"hDUT:Stl (peak 2)","r":11.33,"p":0.007},{"series":"hDUT:Stl (peak 2)","r":12.67,"p":0.003},{"series":"hDUT:Stl (peak 2)","r":14,"p":0}
 ]
},
"bounds": "flush",
"spacing": 88,
"resolve": {"scale": {"color": "independent"}, "legend": {"color": "independent"}},
"vconcat": [
 {
  "width": 470, "height": 379,
  "title": {"text": "a", "frame": "group", "dx": -4, "offset": 3},
  "resolve": {"scale": {"color": "independent"}, "legend": {"color": "independent"}},
  "layer": [
   {
    "data": {"name": "pa"},
    "transform": [{"filter": "isValid(datum.lo)"}],
    "mark": {"type": "rule", "strokeWidth": 1.3, "clip": true},
    "encoding": {
     "x": {"field": "s", "type": "quantitative", "scale": {"domain": [0, 4], "nice": false}, "axis": {"title": "s, nm⁻¹", "values": [0, 1, 2, 3, 4], "titlePadding": 5}},
     "y": {"field": "lo", "type": "quantitative", "scale": {"type": "log", "domain": [1, 100000000], "nice": false}, "axis": {"title": "I, relative", "values": [1, 100, 10000, 1000000, 100000000], "labelExpr": "datum.value < 10 ? '10⁰' : datum.value < 1000 ? '10²' : datum.value < 100000 ? '10⁴' : datum.value < 10000000 ? '10⁶' : '10⁸'", "titlePadding": 10}},
     "y2": {"field": "hi"},
     "color": {"field": "series", "type": "nominal", "scale": {"domain": ["hDUT:Stl (peak 2)", "hDUT:Stl (peak 1)", "hDUT", "Stl"], "range": ["#1f78b4", "#b2df8a", "#fb9a99", "#a6cee3"]}, "legend": null}
    }
   },
   {
    "data": {"name": "pa"},
    "mark": {"type": "point", "filled": true, "size": 65, "opacity": 1},
    "encoding": {
     "x": {"field": "s", "type": "quantitative", "scale": {"domain": [0, 4], "nice": false}, "axis": {"title": "s, nm⁻¹", "values": [0, 1, 2, 3, 4], "titlePadding": 5}},
     "y": {"field": "I", "type": "quantitative", "scale": {"type": "log", "domain": [1, 100000000], "nice": false}, "axis": {"title": "I, relative", "values": [1, 100, 10000, 1000000, 100000000], "labelExpr": "datum.value < 10 ? '10⁰' : datum.value < 1000 ? '10²' : datum.value < 100000 ? '10⁴' : datum.value < 10000000 ? '10⁶' : '10⁸'", "titlePadding": 10}},
     "color": {"field": "series", "type": "nominal", "scale": {"domain": ["hDUT:Stl (peak 2)", "hDUT:Stl (peak 1)", "hDUT", "Stl"], "range": ["#1f78b4", "#b2df8a", "#fb9a99", "#a6cee3"]}, "legend": {"title": null, "orient": "none", "legendX": 304, "legendY": 65, "symbolType": "circle", "symbolSize": 64, "labelOffset": 11, "rowPadding": 9}}
    }
   },
   {
    "data": {"name": "fa"},
    "transform": [{"fold": ["RBM FIT", "Ab initio FIT"], "as": ["fit", "I"]}, {"filter": "isValid(datum.I)"}],
    "mark": {"type": "line", "color": "black", "strokeWidth": 1.8, "interpolate": "monotone"},
    "encoding": {
     "x": {"field": "s", "type": "quantitative", "scale": {"domain": [0, 4], "nice": false}, "axis": {"title": "s, nm⁻¹", "values": [0, 1, 2, 3, 4], "titlePadding": 5}},
     "y": {"field": "I", "type": "quantitative", "scale": {"type": "log", "domain": [1, 100000000], "nice": false}, "axis": {"title": "I, relative", "values": [1, 100, 10000, 1000000, 100000000], "labelExpr": "datum.value < 10 ? '10⁰' : datum.value < 1000 ? '10²' : datum.value < 100000 ? '10⁴' : datum.value < 10000000 ? '10⁶' : '10⁸'", "titlePadding": 10}},
     "detail": {"field": "series", "type": "nominal"},
     "strokeDash": {"field": "fit", "type": "nominal", "scale": {"domain": ["RBM FIT", "Ab initio FIT"], "range": [[1, 0], [2, 4]]}, "legend": {"title": null, "orient": "none", "legendX": 286, "legendY": 13, "symbolType": "stroke", "symbolStrokeColor": "black", "symbolStrokeWidth": 2, "symbolSize": 676, "labelOffset": 12, "rowPadding": 3}}
    }
   }
  ]
 },
 {
  "hconcat": [
   {
    "width": 198, "height": 265,
    "title": {"text": "b", "frame": "group", "dx": -5, "offset": 8},
    "encoding": {
     "x": {"field": "s2", "type": "quantitative", "scale": {"domain": [0, 0.2], "nice": false}, "axis": {"title": "s², nm⁻²", "values": [0, 0.1, 0.2], "labelExpr": "datum.value == 0 ? '0' : format(datum.value, '.1f')", "titlePadding": 5}},
     "y": {"field": "lnI", "type": "quantitative", "scale": {"domain": [7.7, 9.1], "nice": false, "zero": false}, "axis": {"title": "lnI, relative", "values": [8.0, 8.4, 8.8], "format": ".1f", "titlePadding": 10}},
     "color": {"field": "series", "type": "nominal", "scale": {"domain": ["hDUT:Stl (peak 2)", "hDUT:Stl (peak 1)", "hDUT", "Stl"], "range": ["#1f78b4", "#b2df8a", "#fb9a99", "#a6cee3"]}, "legend": null}
    },
    "layer": [
     {"data": {"name": "gf"}, "mark": {"type": "line", "strokeWidth": 1.5}},
     {"data": {"name": "gp"}, "mark": {"type": "point", "filled": true, "size": 55, "opacity": 1}}
    ]
   },
   {
    "width": 200, "height": 264,
    "title": {"text": "c", "frame": "group", "dx": -4, "offset": 8},
    "data": {"name": "pr"},
    "mark": {"type": "line", "strokeWidth": 4.5, "interpolate": "monotone"},
    "encoding": {
     "x": {"field": "r", "type": "quantitative", "scale": {"domain": [0, 20], "nice": false}, "axis": {"title": "r, nm", "values": [0, 5, 10, 15, 20], "titlePadding": 5}},
     "y": {"field": "p", "type": "quantitative", "scale": {"domain": [0, 0.3], "nice": false}, "axis": {"title": "p(r), relative", "values": [0, 0.1, 0.2, 0.3], "format": ".1f", "titlePadding": 10}},
     "color": {"field": "series", "type": "nominal", "scale": {"domain": ["hDUT:Stl (peak 2)", "hDUT:Stl (peak 1)", "hDUT", "Stl"], "range": ["#1f78b4", "#b2df8a", "#fb9a99", "#a6cee3"]}, "legend": {"title": null, "orient": "none", "legendX": 52, "legendY": 11, "symbolType": "stroke", "symbolStrokeWidth": 4.5, "symbolSize": 225, "labelOffset": 7, "rowPadding": 6}}
    }
   }
  ],
  "spacing": 72,
  "bounds": "flush",
  "resolve": {"scale": {"color": "independent"}, "legend": {"color": "independent"}}
 }
]
}
